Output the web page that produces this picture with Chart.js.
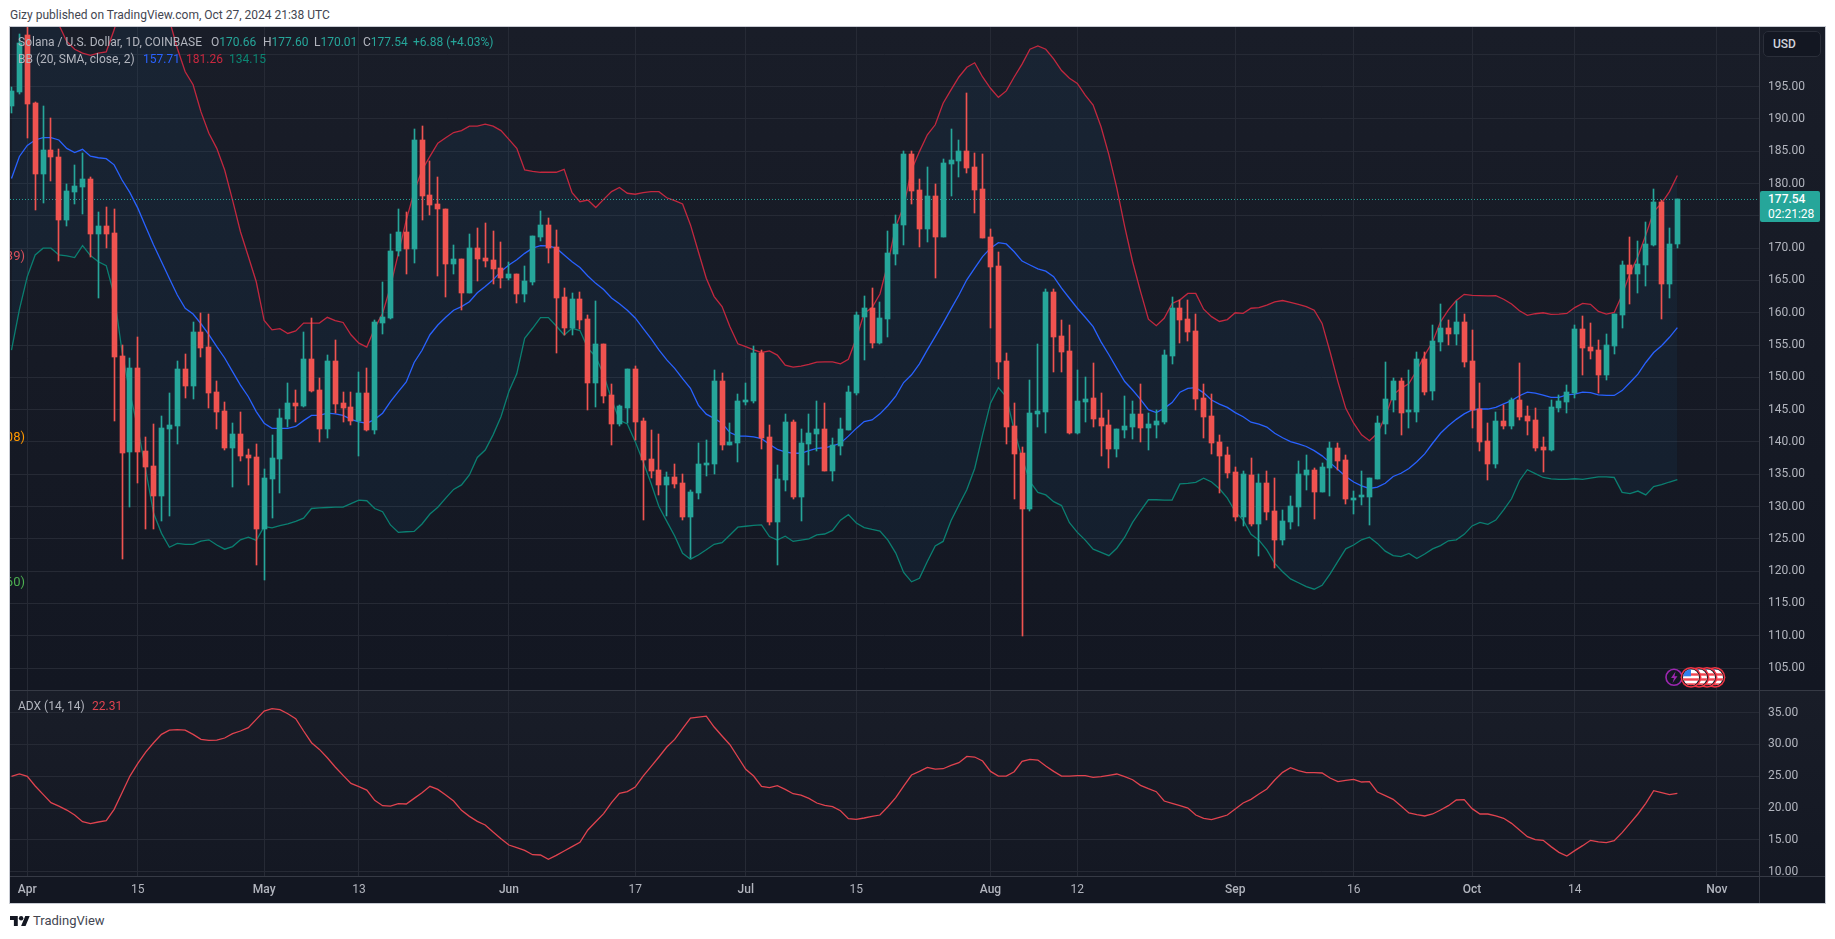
<!DOCTYPE html>
<html>
<head>
<meta charset="utf-8">
<title>Solana / U.S. Dollar</title>
<script src="https://cdn.jsdelivr.net/npm/chart.js@4/dist/chart.umd.min.js"></script>
<style>
    html, body { margin: 0; padding: 0; background: #fff; width: 1835px; height: 939px; overflow: hidden; font-family: Roboto, sans-serif; }
    .abs { position: absolute; white-space: nowrap; }
    .rule { position: absolute; background: #363a45; }
    #title { left: 10px; top: 7px; font-size: 12px; line-height: 16px; color: #434651; }
    #frame { position: absolute; left: 9px; top: 26px; width: 1815px; height: 876px; border: 1px solid #c8cbd3; }
    #priceCanvas { position: absolute; left: 10px; top: 27px; background: linear-gradient(#191d28, #131722); }
    #adxCanvas { position: absolute; left: 10px; top: 690px; background: linear-gradient(#191d28 0, #141823 186px, #131722 186px); }
    .legend { font-size: 12px; line-height: 16px; color: #b2b5be; }
    .up { color: #26a69a; }
    #ghost { position: absolute; left: 10px; top: 27px; width: 20px; height: 663px; overflow: hidden; }
    #ghost div { position: absolute; right: 5px; font-size: 13px; line-height: 16px; white-space: nowrap; }
    #lastPrice { left: 1760px; top: 191px; width: 60px; height: 31px; background: #26a69a; color: #fff; border-radius: 2px; font-size: 12px; line-height: 15px; padding: 1px 0 0 8px; box-sizing: border-box; }
    #lastPrice b { font-weight: 500; }
    #usd { left: 1763px; top: 31px; width: 58px; height: 26px; box-sizing: border-box; border: 1px solid #2a2e39; border-radius: 5px; background: #131722; color: #d1d4dc; font-size: 12px; font-weight: 500; line-height: 24px; padding-left: 9px; }
    #brand { left: 33px; top: 913px; font-size: 13px; line-height: 16px; color: #434651; }
</style>
</head>
<body>
<div class="abs" id="title">Gizy published on TradingView.com, Oct 27, 2024 21:38 UTC</div>
<div id="frame"></div>
<canvas id="priceCanvas" width="1815" height="663"></canvas>
<canvas id="adxCanvas" width="1815" height="213"></canvas>
<div class="rule" style="left:10px;top:690px;width:1815px;height:1px"></div>
<div class="rule" style="left:10px;top:876px;width:1815px;height:1px"></div>
<div class="rule" style="left:1759px;top:876px;width:1px;height:27px"></div>

<div class="abs legend" style="left:18px;top:34px">Solana / U.S. Dollar, 1D, COINBASE</div>
<div class="abs legend" style="left:211px;top:34px">O<span class="up">170.66</span></div>
<div class="abs legend" style="left:263px;top:34px">H<span class="up">177.60</span></div>
<div class="abs legend" style="left:314px;top:34px">L<span class="up">170.01</span></div>
<div class="abs legend" style="left:363px;top:34px">C<span class="up">177.54</span></div>
<div class="abs legend up" style="left:413px;top:34px">+6.88 (+4.03%)</div>
<div class="abs legend" style="left:18px;top:51px">BB (20, SMA, close, 2)</div>
<div class="abs legend" style="left:143px;top:51px;color:#2962ff">157.71</div>
<div class="abs legend" style="left:186px;top:51px;color:#c9283f">181.26</div>
<div class="abs legend" style="left:229px;top:51px;color:#0b8673">134.15</div>
<div class="abs legend" style="left:18px;top:698px">ADX (14, 14)</div>
<div class="abs legend" style="left:92px;top:698px;color:#e0434f">22.31</div>

<div id="ghost">
    <div style="top:221px;color:#d9505c">(39)</div>
    <div style="top:402px;color:#ff9800">(108)</div>
    <div style="top:547px;color:#4caf50">(160)</div>
</div>

<div class="abs" id="usd">USD</div>
<div class="abs" id="lastPrice"><b>177.54</b><br>02:21:28</div>

<svg class="abs" style="left:1660px;top:662px" width="72" height="30" viewBox="0 0 72 30">
    <defs>
        <clipPath id="flagClip"><circle cx="0" cy="0" r="8"/></clipPath>
        <g id="flag">
            <circle r="10.4" fill="#f23645"/>
            <circle r="8.9" fill="#131722"/>
            <g clip-path="url(#flagClip)">
                <rect x="-8" y="-8" width="16" height="16" fill="#fff"/>
                <rect x="-8" y="-4" width="16" height="2.4" fill="#f0444f"/>
                <rect x="-8" y="1" width="16" height="2.4" fill="#f0444f"/>
                <rect x="-8" y="6" width="16" height="2.4" fill="#f0444f"/>
                <rect x="-8" y="-8" width="8" height="7" fill="#2f80ed"/>
            </g>
        </g>
    </defs>
    <circle cx="14" cy="15.3" r="8" fill="none" stroke="#9c27b0" stroke-width="1.6"/>
    <path d="M15.5 9.5l-4.5 6.5h3l-1.5 5 5-6.8h-3z" fill="#9c27b0"/>
    <use href="#flag" x="55" y="15.3"/>
    <use href="#flag" x="47" y="15.3"/>
    <use href="#flag" x="39" y="15.3"/>
    <use href="#flag" x="31" y="15.3"/>
</svg>

<svg class="abs" style="left:10px;top:915px" width="20" height="12" viewBox="0 3 36 20">
    <path d="M14 22H7V11H0V4h14v18zM28 22h-8l7.5-18h8L28 22z" fill="#131722"/>
    <circle cx="20" cy="8" r="4" fill="#131722"/>
</svg>
<div class="abs" id="brand">TradingView</div>

<script>
const firstDate = '2024-03-30';
const tickDates = ['2024-04-01', '2024-04-15', '2024-05-01', '2024-05-13', '2024-06-01', '2024-06-17', '2024-07-01', '2024-07-15', '2024-08-01', '2024-08-12', '2024-09-01', '2024-09-16', '2024-10-01', '2024-10-14', '2024-11-01'];
const tickLabels = ['Apr', '15', 'May', '13', 'Jun', '17', 'Jul', '15', 'Aug', '12', 'Sep', '16', 'Oct', '14', 'Nov'];
const priceTicks = [105, 110, 115, 120, 125, 130, 135, 140, 145, 150, 155, 160, 165, 170, 175, 180, 185, 190, 195, 200];
const adxTicks = [10, 15, 20, 25, 30, 35];

const opens = [192,194.2,203,192.4,181.5,185.2,184.1,174.4,178.7,179.5,
    180.7,172.2,173.4,172.4,153.3,138.5,151.5,138.6,136.3,131.6,
    142,142.5,151.3,148.7,157,154.7,147.7,144.8,139.1,141.2,
    138,137.7,126.5,134.3,137.4,143.6,146,145.6,152.8,148,
    142,152.5,146,145.4,143.3,147.6,141.9,158.4,159.2,169.5,
    172.5,169.9,186.7,178.2,176.8,176,167.6,168.3,163,170,
    168.5,168.2,166.9,165.4,166,162.9,164.8,171.7,173.6,170.2,
    162.4,157.6,162.1,159,149.1,155.2,147.3,142.8,145.2,151.3,
    143.2,137.4,135.7,133.4,134.6,133.7,128.4,132.1,136.4,136.6,
    149.4,139.5,139.8,146.2,146.35,153.8,140.8,127.6,134.1,143.1,
    131.5,139.7,141.2,142,135.5,139.4,141.9,147.6,159.35,160.75,
    155.3,159.1,169.1,173.6,184.6,179,173,178.1,171.7,183,
    183.5,185.05,182.6,179.2,171.7,167.25,152.5,142.5,138.3,129.6,
    144.3,144.65,163.2,156.4,154.1,141.4,146.2,146.8,143.7,142.65,
    138.9,141.85,142.3,144.3,142.2,142.6,143.1,153.3,160.75,159,
    157.2,146.8,144,140,138,135.35,128.45,134.9,127.3,133.65,
    129.3,124.8,127.6,129.95,134.9,135.65,132.25,136,139.05,137.2,
    131,131.5,131.5,134.3,142.8,146.5,149.4,144.65,144.65,152.85,
    147.9,155.5,157.65,156.7,158.6,152.5,145.1,140.15,136.6,143.25,
    142.5,146.5,144,143.4,139.2,138.75,145.25,146.2,147.6,157.5,
    154.7,154.25,150.4,154.85,159.65,167.4,166,167.4,170.5,177.15,
    164.45,170.66];

const closes = [194.3,201.7,192.3,181.5,185.2,184.1,174.4,178.9,179.6,180.7,
    172.2,173.4,172.2,153.2,138.3,151.5,138.5,136.1,131.6,142.2,
    142.6,151.3,148.7,157,154.5,147.6,144.6,139.1,141.2,137.8,
    137.5,126.5,134.4,137.5,143.7,146,145.6,152.8,147.9,142,
    152.5,145.9,145.3,143.3,147.6,141.9,158.6,159.3,169.6,172.5,
    169.9,186.7,178.1,176.7,176,167.6,168.3,163,170,168.3,
    168,166.8,165.4,166,162.9,164.9,171.9,173.6,170,162.3,
    157.6,162.1,158.9,149.1,155.2,147.1,142.8,145.5,151.3,143.1,
    137.2,135.5,133.4,134.6,133.5,128.4,132.3,136.6,136.8,149.4,
    139.5,140,146.35,146.5,153.8,140.6,127.6,134.3,143.1,131.5,
    139.85,141.4,142,135.5,139.5,142,147.7,159.7,160.75,155.3,
    159.2,169.3,173.75,184.6,178.9,173,178.1,171.7,183.2,183.65,
    185.05,182.4,179,171.6,167.1,152.4,142.3,138.15,129.6,144.5,
    144.8,163.2,156.25,153.9,141.4,146.35,146.65,143.55,142.5,138.9,
    142,142.5,144.3,142.2,142.8,143.25,153.5,160.75,158.9,157,
    146.65,143.9,139.85,137.8,135.2,128.45,135.05,127.3,133.65,129.2,
    124.8,127.75,130.1,135.05,135.65,132.25,136.15,139.05,137.05,131.2,
    131.2,131.65,134.4,142.95,146.65,149.4,144.5,144.8,152.85,147.75,
    155.6,157.65,156.7,158.6,152.4,144.95,140,136.6,143.25,142.5,
    146.5,143.9,143.25,139.1,138.75,145.4,146.35,147.75,157.5,154.55,
    154.1,150.4,155,159.8,167.4,166,167.55,170.65,177.15,164.45,
    170.65,177.54];

const highs = [195,203.2,205,192.6,192,190.2,185.3,179.9,182.9,184.8,
    181,175.6,176.4,176,155,153,156.3,140.8,142.8,144,
    147.6,152.5,153.6,158.6,159.9,159.8,149.4,146.2,143,144.6,
    138.9,139.7,135.8,141.1,145.1,149.1,148,157,159.2,149.9,
    153.5,155.8,147.7,147.7,150.8,151.5,158.9,164.7,172.2,176,
    175.6,188.4,188.9,183.5,181,176,170.5,168.3,172.2,173.1,
    173.9,172.7,171,167.9,166,167.2,171.9,175.8,174.7,172.8,
    163.8,163,163.2,159.7,161.8,155.2,149,145.7,151.3,151.8,
    143.7,141.9,141.2,135.4,136.6,135,132.6,139.8,140.3,151.1,
    150.7,143,147.4,149.1,154.9,154.2,142.6,136.4,144.3,143.4,
    142,144.3,146.35,146,140.6,143.7,148.7,160.1,162.6,163.8,
    161.7,172.7,175.1,185.05,185,180.7,182.6,180,183.8,188.45,
    186.75,194,184.7,184.6,173,169.4,153.7,146,139.2,149.6,
    155.2,163.7,163.7,158.9,158.1,151.1,150,152.2,147.6,145,
    142,147.1,146.35,149,144.5,145,154.2,162.45,162,162,
    159.8,149,147.4,141.1,139.2,136.1,135.5,137.5,135,135.5,
    134.4,129.5,131.65,137.05,138,136,136.75,140,139.85,138,
    132.4,135.5,134.4,144,152.4,149.9,149.9,151.1,153.9,153.9,
    158.1,161.4,158.9,161.8,159.8,157.3,149.1,142.9,144.65,145.7,
    146.8,152.2,145.6,145.3,140.8,146.5,147.3,148.8,158.1,159.5,
    158.4,155.8,156.7,159.8,168,171.7,171.1,174,179.2,177.45,
    173.1,177.6];

const lows = [190.9,193.9,187,175.9,177,180.4,168,173.5,176.8,175.3,
    168.7,162.3,170.1,143.2,121.9,129.9,133.7,126.6,126.6,127.8,
    128.6,139.7,146.8,146.7,153.2,145.3,142,138.8,133,137.1,
    133.3,121,118.7,128.2,132.1,142.3,143.1,145.4,147.7,140,
    140.6,144.5,143.1,142.6,137.8,141.7,141.2,156.7,159,168.8,
    166,167.7,174.4,175.1,165.7,162.4,166,160.4,163,164.9,
    167.1,164.4,163.8,165,161.5,161.6,164.3,171.1,167.7,153.8,
    156.6,156.6,157.5,145,145.4,146,139.5,142.5,143,140.3,
    127.9,134.4,131.8,128.5,132.9,127.9,122,131.2,134.7,135,
    138.8,139.5,136.9,145.7,146,138.9,127.15,121,132.4,131.2,
    127.8,136.5,138.6,135.5,134,138,141.9,147.3,152.7,154.5,
    155.1,156.3,167.4,170.5,176.85,170.2,171,165.4,171.7,178.1,
    181,181.65,175.45,171.6,157.65,149.75,139.7,131.2,110,129.3,
    142.3,141.4,150.9,150.8,141.2,141.2,143.1,142.3,137.8,136,
    137.7,140.6,140.5,140,138.8,140.6,142.8,152,155.3,155.6,
    145,140.6,138.1,132.05,134.4,127.8,127,127,122.35,127.9,
    120.5,124.05,126.55,127,132.55,128.1,132.25,131.65,135.65,130.4,
    128.85,130.25,127.15,134.3,141.2,144.65,141.1,142.2,143.1,147.3,
    146.5,154.1,155,155,151.6,142.2,138.6,134.1,136,142,
    142,143.4,141.1,138.6,135.35,138.6,144.65,144.5,146.8,150.4,
    152.85,147.6,149.6,153.6,157.65,161.4,163.05,164.15,170.3,159.05,
    162.3,170.01];

const bbUpper = [214,212,208,205,204.4,204.4,204.6,202,200.8,200.2,
    199.85,200.2,200.4,203.8,208,215,218,219,217,212,
    205.3,200.95,197.3,195.3,191.1,187.8,185.45,182.1,177.45,172.55,
    168.7,164.8,158.8,157.35,157.55,156.8,157.2,158.4,158.4,158.4,
    159.3,158.8,158.5,156.6,155.3,154.7,157.6,159.9,164.05,169.2,
    174.35,178.75,182.1,184.2,186.25,187.1,187.9,188.2,188.9,188.9,
    189.2,188.9,188.2,186.85,185.45,182.1,181.9,181.75,181.75,181.75,
    182.2,178.6,177.2,177.45,176.3,177.55,178.75,179.4,178.5,178.35,
    178.6,178.75,178.75,177.8,177.35,176.85,173.6,169.45,165.35,162.5,
    160.95,157.85,155.2,154.75,154.25,153.85,154.1,153.45,151.9,151.6,
    151.75,152,152.35,152.4,152.4,152.1,152.8,156.05,159.9,160.8,
    162.9,167.65,173.35,176.45,182.1,184.95,187.55,189.1,192.45,194.5,
    196.5,198,198.7,196.5,194.75,193.35,194.35,196.5,198.5,200.8,
    201.3,200.8,199.3,197.5,196.3,195.5,193.7,192.15,188.8,184.45,
    179.3,173.35,167.9,163.3,159,158,159.15,161.45,162,163,
    163,160.55,159.4,158.65,158.95,160,159.9,160.7,160.8,161.2,
    161.7,161.9,161.6,161.3,160.95,160.4,158.35,154,149.35,145.2,
    142.9,141.1,140.2,141.35,143.9,147.3,148.3,149.05,151.1,153.45,
    155.5,158.6,160.45,161.9,162.85,162.7,162.65,162.6,162.65,162.1,
    161.35,160.3,159.6,159.85,160,159.75,159.8,159.9,160.8,161.45,
    161.3,160.2,159.8,160.05,162.75,166.1,168.7,172.05,175.65,176.95,
    178.75,181.26];

const bbBasis = [180.8,184.2,185.9,186.75,187.1,187.1,186.75,185.45,184.8,185.3,
    184.25,184,183.85,182.9,180.55,178.6,176.2,173.3,170.5,167.9,
    165.3,162.75,160.7,159.8,158.3,156.6,154.75,153,150.9,148.8,
    147,144.7,142.9,142.1,142.1,142.1,142.4,143.3,144.1,144.1,
    144.45,144.35,144.1,143.5,143.1,142.9,143.5,144.45,146.25,147.8,
    149.3,152.3,154.2,156.6,158.1,159.3,160.4,160.95,161.7,163.1,
    164.05,165.1,166.4,167.4,168.2,169.2,170,170.4,170.35,170,
    168.95,167.9,167,165.7,164.55,163.6,162.3,161.4,160.4,159.2,
    157.6,156,154.25,152.7,151.4,149.8,148.3,145.7,144.3,143.65,
    142.9,141.45,140.9,140.9,140.8,140.5,139.65,138.85,138.45,138.25,
    138.25,138.65,139,139.1,139.4,139.8,140.9,142.1,143.15,143.4,
    144.35,145.6,147.1,149.2,150.4,152.1,154.25,156.3,158.4,160.6,
    162.75,165.1,166.9,168.7,170,170.85,170.65,169.45,168,167.4,
    166.8,166.45,165.6,163.8,162.25,160.7,159.3,157.85,155.5,153.5,
    151.4,149.35,148.05,146.6,145,144.55,145.2,146.1,147.7,148.3,
    148.4,147.6,146.5,145.85,145.35,144.55,143.9,143.05,142.75,142.3,
    141.35,140.65,140.05,139.7,139.3,138.65,137.85,136.8,135.75,134.65,
    133.8,133.2,132.8,133,133.6,134.65,135.15,135.9,136.95,138.15,
    139.8,141.35,142.5,143.5,144.35,144.95,145.1,145.1,145.35,145.9,
    146.4,147.15,147.7,147.55,147.25,146.9,146.9,147.3,147.4,147.7,
    147.65,147.3,147.2,147.2,147.95,149.2,150.5,152.3,153.85,154.9,
    156.2,157.71];

const bbLower = [154.2,160.5,165.6,168.95,170,170,168.95,168.8,168.55,170.4,
    168.85,167.9,167.3,162.75,154,147.55,142.1,135.65,128.95,125.85,
    123.7,124.3,124.15,124.15,124.65,124.85,124.05,123.4,123.8,124.85,
    125.25,124.75,126.9,126.7,127.05,127.3,127.7,128.2,129.7,129.8,
    129.85,129.9,129.9,130.45,131,130.9,129.7,129.2,127.15,126,
    126.1,126.15,127.3,128.85,129.9,131.3,132.65,133.35,134.9,137.6,
    138.75,141.1,143.9,147.8,150.55,156.05,157.6,159.25,159.25,157.95,
    156.55,157.6,157.25,154.5,153.2,150.4,146.6,143.4,142.8,140.05,
    136.95,133.6,130,127.7,125.45,122.75,121.85,122.5,123.3,124.15,
    124.4,125.6,126.8,126.95,127.1,127.15,125.35,124.8,125.4,124.6,
    124.8,125,125.6,125.75,126.3,127.9,128.75,127.45,126.75,126.45,
    126.2,124.8,122.8,119.8,118.35,118.9,121.5,123.9,124.6,127.8,
    130.25,132.6,135.9,141.1,146,148.4,147,141.85,137.5,133.85,
    132.2,131.8,130.75,130.15,127.5,126,124.8,123.4,122.9,122.4,
    123.55,125.25,127.55,129.35,131.05,131.05,131,131,133.5,133.6,
    133.75,134.4,133.8,132.75,131.3,129.2,127.9,125.7,124.8,123.3,
    121.2,119.9,118.8,118.2,117.6,117.2,117.8,119.55,121.5,123.45,
    124.05,124.85,125.25,124.3,123.1,122.4,122.25,122.75,121.95,122.65,
    123.45,123.95,124.7,124.85,125.7,127,127.55,127.25,127.9,129.5,
    131.2,134,135.7,135.1,134.5,134.3,134.2,134.2,134.3,134.2,
    134.4,134.6,134.6,134.5,132.2,132,132.4,131.8,133.1,133.4,
    133.8,134.15];

const adx = [24.99,25.36,24.99,23.47,22.16,20.85,20.32,19.69,18.91,17.86,
    17.55,17.81,18.02,19.8,22.42,25.04,27.03,28.8,30.28,31.59,
    32.27,32.33,32.27,31.59,30.81,30.65,30.7,31.02,31.7,32.12,
    32.64,33.95,35.26,35.63,35.47,34.84,34.06,32.12,30.28,29.23,
    27.92,26.46,25.15,23.89,23.36,22.84,21.21,20.38,20.32,20.69,
    20.64,21.53,22.42,23.42,22.94,22.05,21.11,19.64,18.7,17.91,
    17.34,16.24,15.19,14.19,13.77,13.35,12.67,12.62,11.94,12.57,
    13.25,13.93,14.61,16.55,17.86,19.12,20.85,22.32,22.58,23.31,
    25.04,26.51,28.03,29.6,30.81,32.48,34.16,34.32,34.47,32.75,
    31.33,29.97,28.03,26.09,25.04,23.42,23.21,23.52,22.94,22.26,
    22.05,21.53,20.8,20.43,20.22,19.59,18.33,18.23,18.44,18.7,
    18.91,20.22,21.63,23.47,25.2,25.77,26.4,26.14,26.19,26.72,
    27.14,28.13,28.03,27.4,25.77,25.04,25.04,25.72,27.35,27.66,
    27.56,26.61,25.77,25.04,25.04,25.09,25.09,24.83,24.94,25.15,
    25.36,24.94,24.46,23.57,23.05,22.58,21.11,20.74,20.38,20.01,
    18.91,18.39,18.18,18.55,18.91,19.86,20.8,21.38,22.22,23,
    24.42,25.62,26.36,25.88,25.57,25.57,25.52,24.73,24.16,24.37,
    24.52,24.1,24.16,22.53,21.95,21.38,20.33,19.23,18.97,18.76,
    19.07,19.7,20.38,21.27,21.32,19.91,19.07,19.07,18.76,18.39,
    17.6,16.56,15.51,15.04,14.93,13.94,13.04,12.47,13.31,14.09,
    14.93,14.67,14.56,14.88,16.14,17.6,19.07,20.75,22.74,22.43,
    22.11,22.31];

const UP = '#26a69a';
const DOWN = '#ef5350';
const GRID = '#262a35';
const BORDER = '#363a45';
const TICK = '#b2b5be';
const X_MIN = -0.19;
const X_MAX = 221.34;
const AXIS_WIDTH = 66;
const LINE_WIDTH = 1.3;

Chart.defaults.font.family = 'Roboto, sans-serif';
Chart.defaults.font.size = 12;
Chart.defaults.animation = false;

const dayMs = 86400000;
const tickIndexes = tickDates.map(d => Math.round((new Date(d) - new Date(firstDate)) / dayMs));
const candleColors = opens.map((o, i) => (closes[i] >= o ? UP : DOWN));
const toPoints = values => values.map((v, i) => ({ x: i, y: v }));
const lastClose = closes[closes.length - 1];

// candles land on whole pixels like the original, otherwise the 1px wicks go blurry
const snapBars = {
    id: 'snapBars',
    beforeDatasetsDraw(chart) {
        chart.getSortedVisibleDatasetMetas().forEach(meta => {
            if (meta.type !== 'bar') return;
            meta.data.forEach(el => {
                el.x = Math.round(el.x - 0.5) + 0.5;
                el.y = Math.round(el.y);
                el.base = Math.round(el.base);
            });
        });
    },
};

// the panes run edge to edge, so the half-label padding Chart.js adds has to go
const noPadding = scale => {
    scale.paddingTop = 0;
    scale.paddingBottom = 0;
    scale.paddingLeft = 0;
    scale.paddingRight = 0;
};

const isMonthTick = ctx => ctx.tick && isNaN(Number(tickLabels[tickIndexes.indexOf(ctx.tick.value)]));

const xAxis = (showLabels, height) => ({
    type: 'linear',
    min: X_MIN,
    max: X_MAX,
    offset: false,
    afterBuildTicks: scale => { scale.ticks = tickIndexes.map(v => ({ value: v })); },
    afterFit: scale => { scale.height = height; noPadding(scale); },
    grid: { color: GRID, offset: false, drawTicks: false, lineWidth: 1 },
    border: { color: BORDER },
    ticks: {
        display: showLabels,
        autoSkip: false,
        maxRotation: 0,
        padding: 7,
        color: TICK,
        font: ctx => ({ weight: isMonthTick(ctx) ? '500' : '400' }),
        callback: value => tickLabels[tickIndexes.indexOf(value)],
    },
});

const yAxis = (min, max, ticks, format) => ({
    position: 'right',
    min,
    max,
    afterBuildTicks: scale => { scale.ticks = ticks.map(v => ({ value: v })); },
    afterFit: scale => { scale.width = AXIS_WIDTH; noPadding(scale); },
    grid: { color: GRID, drawTicks: false, lineWidth: 1 },
    border: { color: BORDER },
    ticks: { padding: 9, color: TICK, callback: format },
});

const baseOptions = {
    responsive: false,
    events: [],
    layout: { padding: 0 },
    plugins: { legend: { display: false }, tooltip: { enabled: false } },
    datasets: { bar: { grouped: false } },
};

new Chart(document.getElementById('priceCanvas').getContext('2d'), {
    type: 'bar',
    plugins: [snapBars],
    data: {
        datasets: [
            {
                label: 'Body',
                data: opens.map((o, i) => ({ x: i, y: [o, closes[i]] })),
                backgroundColor: candleColors,
                barThickness: 5,
                minBarLength: 2,
                order: 0,
            },
            {
                label: 'Wick',
                data: lows.map((l, i) => ({ x: i, y: [l, highs[i]] })),
                backgroundColor: candleColors,
                barThickness: 1,
                order: 1,
            },
            {
                type: 'line',
                label: 'BB upper',
                data: toPoints(bbUpper),
                borderColor: '#c2283f',
                borderWidth: LINE_WIDTH,
                pointRadius: 0,
                tension: 0,
                fill: { target: 4 },
                backgroundColor: 'rgba(33, 150, 243, 0.06)',
                order: 3,
            },
            {
                type: 'line',
                label: 'BB basis',
                data: toPoints(bbBasis),
                borderColor: '#2962ff',
                borderWidth: LINE_WIDTH,
                pointRadius: 0,
                tension: 0,
                order: 2,
            },
            {
                type: 'line',
                label: 'BB lower',
                data: toPoints(bbLower),
                borderColor: '#0b7f6e',
                borderWidth: LINE_WIDTH,
                pointRadius: 0,
                tension: 0,
                order: 3,
            },
            {
                type: 'line',
                label: 'Last price',
                data: [{ x: X_MIN, y: lastClose }, { x: X_MAX, y: lastClose }],
                borderColor: UP,
                borderWidth: 1,
                borderDash: [1, 2],
                pointRadius: 0,
                order: 2,
            },
        ],
    },
    options: {
        ...baseOptions,
        scales: {
            x: xAxis(false, 0),
            y: yAxis(101.6, 204.24, priceTicks, v => (v === 200 ? '' : v.toFixed(2))),
        },
    },
});

new Chart(document.getElementById('adxCanvas').getContext('2d'), {
    type: 'line',
    data: {
        datasets: [{
            label: 'ADX',
            data: toPoints(adx),
            borderColor: '#e0434f',
            borderWidth: LINE_WIDTH,
            pointRadius: 0,
            tension: 0,
        }],
    },
    options: {
        ...baseOptions,
        scales: {
            x: xAxis(true, 27),
            y: yAxis(9.32, 38.57, adxTicks, v => v.toFixed(2)),
        },
    },
});
</script>
</body>
</html>
